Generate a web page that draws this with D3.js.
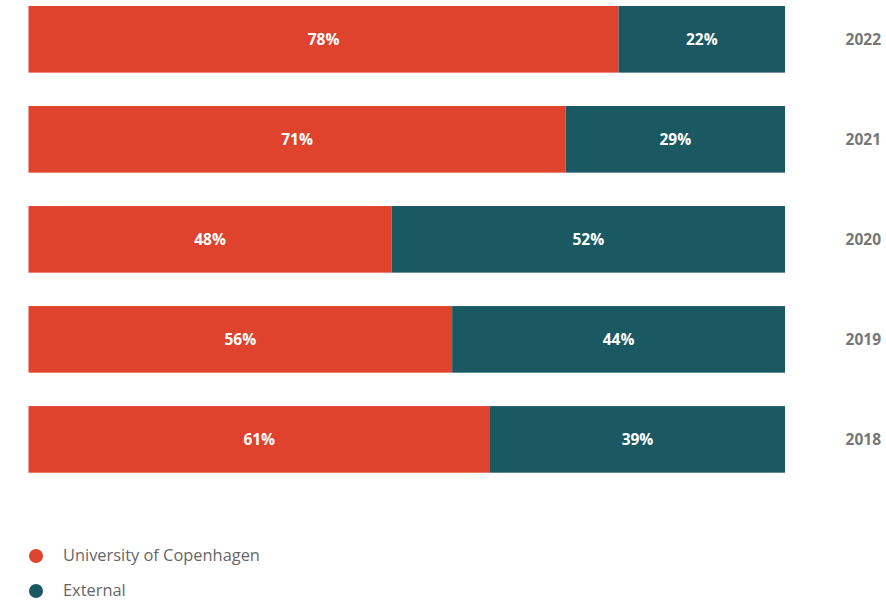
<!DOCTYPE html>
<html>
<head>
<meta charset="utf-8">
<script src="https://cdn.jsdelivr.net/npm/d3@7"></script>
<style>
  body { margin: 0; background: #fff; }
  text { font-family: "Open Sans", "Noto Sans", sans-serif; }
</style>
</head>
<body>
<div id="wrapper"></div>
<script>
const years = ["2022", "2021", "2020", "2019", "2018"]
const ucph = [78, 71, 48, 56, 61]
const external = [22, 29, 52, 44, 39]
const seriesNames = ["University of Copenhagen", "External"]
const colors = ["#e0432d", "#1a5862"]

const dataset = years.map((y, i) => ({ year: y, ucph: ucph[i], external: external[i] }))

let dimensions = {
  width: 886,
  height: 602,
  margin: { top: 6, right: 101, bottom: 0, left: 28.5 },
}
dimensions.boundedWidth = dimensions.width - dimensions.margin.left - dimensions.margin.right

const wrapper = d3.select("#wrapper")
  .append("svg")
  .attr("width", dimensions.width)
  .attr("height", dimensions.height)

const bounds = wrapper.append("g")
  .attr("transform", `translate(${dimensions.margin.left},${dimensions.margin.top})`)

const xScale = d3.scaleLinear()
  .domain([0, 100])
  .range([0, dimensions.boundedWidth])

const yScale = d3.scaleBand()
  .domain(years)
  .range([0, 466.7])
  .paddingInner(0.334)
  .paddingOuter(0)

const stack = d3.stack().keys(["ucph", "external"])(dataset)

const layers = bounds.selectAll("g.layer")
  .data(stack)
  .enter().append("g")
  .attr("class", "layer")
  .attr("fill", (d, i) => colors[i])

layers.selectAll("rect")
  .data(d => d)
  .enter().append("rect")
  .attr("x", d => xScale(d[0]))
  .attr("y", d => yScale(d.data.year))
  .attr("width", d => xScale(d[1]) - xScale(d[0]))
  .attr("height", yScale.bandwidth())

layers.selectAll("text")
  .data(d => d)
  .enter().append("text")
  .attr("x", d => (xScale(d[0]) + xScale(d[1])) / 2)
  .attr("y", d => yScale(d.data.year) + yScale.bandwidth() / 2)
  .attr("dy", "0.35em")
  .attr("text-anchor", "middle")
  .attr("fill", "#fff")
  .style("font-size", "15.5px")
  .style("font-weight", "700")
  .text(d => `${d[1] - d[0]}%`)

const yearLabels = bounds.selectAll("text.year")
  .data(years)
  .enter().append("text")
  .attr("class", "year")
  .attr("x", dimensions.boundedWidth + 96)
  .attr("y", d => yScale(d) + yScale.bandwidth() / 2)
  .attr("dy", "0.35em")
  .attr("text-anchor", "end")
  .attr("fill", "#777")
  .style("font-size", "15.5px")
  .style("font-weight", "700")
  .text(d => d)

const legend = wrapper.append("g")
  .selectAll("g")
  .data(seriesNames)
  .enter().append("g")
  .attr("transform", (d, i) => `translate(36,${556 + i * 35})`)

legend.append("circle")
  .attr("r", 7)
  .attr("fill", (d, i) => colors[i])

legend.append("text")
  .attr("x", 27)
  .attr("dy", "0.33em")
  .attr("fill", "#666")
  .style("font-size", "16.4px")
  .text(d => d)
</script>
</body>
</html>
